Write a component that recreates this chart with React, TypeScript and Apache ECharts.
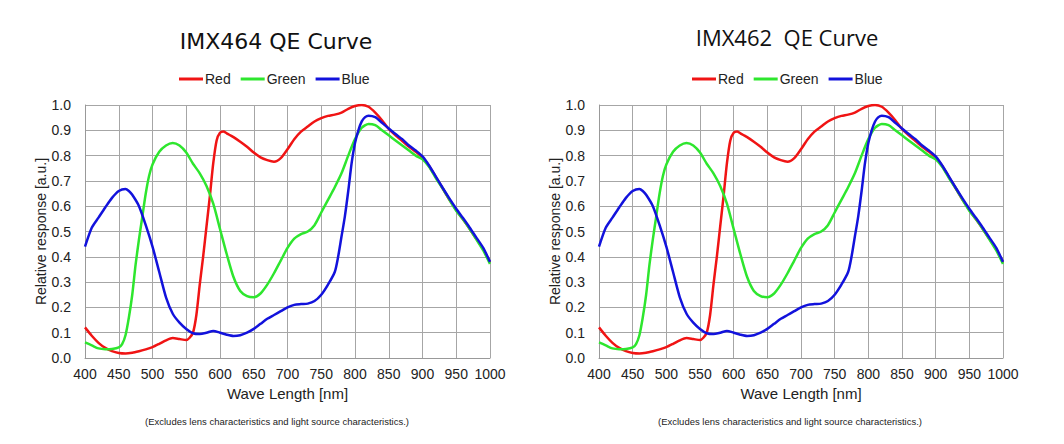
import React, { useEffect, useRef } from 'react'
import * as echarts from 'echarts'

// relative response, [wavelength nm, value]
const redQE = [
  [400, 0.121], [410, 0.088], [420, 0.06], [430, 0.04], [440, 0.027], [450, 0.02],
  [460, 0.018], [470, 0.021], [480, 0.027], [490, 0.034], [500, 0.043], [510, 0.056],
  [520, 0.07], [530, 0.079], [540, 0.075], [550, 0.071], [555, 0.08], [560, 0.1],
  [565, 0.17], [570, 0.29], [575, 0.4], [580, 0.52], [585, 0.64], [590, 0.77],
  [595, 0.86], [600, 0.89], [605, 0.895], [610, 0.888], [620, 0.873], [630, 0.855],
  [640, 0.835], [650, 0.812], [660, 0.793], [670, 0.782], [680, 0.776], [690, 0.79],
  [700, 0.825], [710, 0.865], [720, 0.895], [730, 0.915], [740, 0.935], [750, 0.948],
  [760, 0.957], [770, 0.962], [780, 0.97], [790, 0.985], [800, 0.996], [810, 1.0],
  [820, 0.993], [830, 0.97], [840, 0.94], [850, 0.905], [860, 0.88], [870, 0.858],
  [880, 0.835], [890, 0.815], [900, 0.793], [910, 0.758], [920, 0.714], [930, 0.67],
  [940, 0.625], [950, 0.585], [960, 0.548], [970, 0.51], [980, 0.47], [990, 0.43],
  [1000, 0.377],
]

const greenQE = [
  [400, 0.062], [410, 0.05], [420, 0.038], [430, 0.035], [440, 0.036], [450, 0.042],
  [455, 0.055], [460, 0.09], [465, 0.16], [470, 0.25], [475, 0.37], [480, 0.47],
  [485, 0.56], [490, 0.65], [495, 0.72], [500, 0.765], [510, 0.815], [520, 0.84],
  [530, 0.85], [540, 0.84], [550, 0.812], [560, 0.768], [570, 0.73], [580, 0.68],
  [590, 0.61], [600, 0.51], [610, 0.41], [620, 0.32], [630, 0.265], [640, 0.245],
  [650, 0.24], [660, 0.255], [670, 0.29], [680, 0.335], [690, 0.385], [700, 0.435],
  [710, 0.472], [720, 0.49], [730, 0.5], [740, 0.525], [750, 0.575], [760, 0.625],
  [770, 0.675], [780, 0.73], [790, 0.8], [800, 0.865], [810, 0.91], [820, 0.925],
  [830, 0.92], [840, 0.9], [850, 0.88], [860, 0.86], [870, 0.84], [880, 0.82],
  [890, 0.8], [900, 0.785], [910, 0.755], [920, 0.71], [930, 0.67], [940, 0.625],
  [950, 0.582], [960, 0.548], [970, 0.51], [980, 0.468], [990, 0.425], [1000, 0.372],
]

const blueQE = [
  [400, 0.44], [410, 0.515], [420, 0.555], [430, 0.595], [440, 0.633], [450, 0.66],
  [460, 0.668], [465, 0.66], [470, 0.645], [480, 0.6], [490, 0.525], [500, 0.44],
  [510, 0.34], [520, 0.24], [530, 0.175], [540, 0.14], [550, 0.115], [560, 0.098],
  [570, 0.095], [580, 0.1], [590, 0.107], [600, 0.1], [610, 0.092], [620, 0.087],
  [630, 0.09], [640, 0.1], [650, 0.115], [660, 0.135], [670, 0.155], [680, 0.17],
  [690, 0.185], [700, 0.2], [710, 0.21], [720, 0.213], [730, 0.215], [740, 0.225],
  [750, 0.25], [760, 0.29], [770, 0.34], [775, 0.4], [780, 0.48], [785, 0.56],
  [790, 0.66], [795, 0.77], [800, 0.85], [805, 0.9], [810, 0.935], [815, 0.952],
  [820, 0.958], [830, 0.952], [840, 0.93], [850, 0.907], [860, 0.885], [870, 0.865],
  [880, 0.84], [890, 0.82], [900, 0.797], [910, 0.76], [920, 0.716], [930, 0.672],
  [940, 0.63], [950, 0.59], [960, 0.553], [970, 0.515], [980, 0.475], [990, 0.435],
  [1000, 0.38],
]

const seriesNames = ['Red', 'Green', 'Blue']
const seriesColors = ['#f01414', '#2ee62e', '#1212dc']
const chartTitles = ['IMX464 QE Curve', 'IMX462  QE Curve']
const note = '(Excludes lens characteristics and light source characteristics.)'

const axisFont = 'Liberation Sans, Arial, sans-serif'

function App() {
  const chartRef = useRef(null)

  useEffect(() => {
    const chart = echarts.init(chartRef.current, null, { renderer: 'svg' })
    const seriesData = [redQE, greenQE, blueQE]

    const grids = [
      { left: 85, top: 105, width: 405, height: 253 },
      { left: 599, top: 105, width: 404, height: 253 },
    ]

    const xAxes = grids.map((_, i) => ({
      type: 'value',
      gridIndex: i,
      min: 400,
      max: 1000,
      interval: 50,
      name: 'Wave Length [nm]',
      nameLocation: 'middle',
      nameGap: 28,
      nameTextStyle: { fontFamily: axisFont, fontSize: 15, color: '#222' },
      axisLine: { lineStyle: { color: '#999', width: 1 } },
      axisTick: { show: false },
      axisLabel: {
        fontFamily: axisFont,
        fontSize: 14,
        color: '#222',
        margin: 9,
        formatter: (v: number) => String(v),
      },
      splitLine: { show: true, lineStyle: { color: '#a6a6a6', width: 1 } },
    }))

    const yAxes = grids.map((_, i) => ({
      type: 'value',
      gridIndex: i,
      min: 0,
      max: 1,
      interval: 0.1,
      name: 'Relative response [a.u.]',
      nameLocation: 'middle',
      nameGap: 37,
      nameTextStyle: { fontFamily: axisFont, fontSize: 14, color: '#222' },
      axisLine: { show: true, lineStyle: { color: '#999', width: 1 } },
      axisTick: { show: false },
      axisLabel: {
        fontFamily: axisFont,
        fontSize: 14,
        color: '#222',
        margin: 14,
        formatter: (v: number) => v.toFixed(1),
      },
      splitLine: { show: true, lineStyle: { color: '#a6a6a6', width: 1 } },
    }))

    const series: any[] = []
    grids.forEach((_, g) => {
      seriesNames.forEach((name, k) => {
        series.push({
          name,
          type: 'line',
          xAxisIndex: g,
          yAxisIndex: g,
          data: seriesData[k],
          smooth: 0.25,
          showSymbol: false,
          lineStyle: { color: seriesColors[k], width: 2.5 },
          itemStyle: { color: seriesColors[k] },
        })
      })
    })

    chart.setOption({
      animation: false,
      backgroundColor: '#fff',
      title: [
        {
          text: chartTitles[0],
          left: 271,
          top: 25,
          textAlign: 'center',
          textStyle: { fontFamily: 'DejaVu Sans', fontSize: 22, fontWeight: 'normal', color: '#111' },
        },
        {
          text: chartTitles[1],
          left: 782,
          top: 21,
          textAlign: 'center',
          textStyle: { fontFamily: 'Open Sans', fontSize: 22, fontWeight: 'normal', color: '#111' },
        },
        {
          text: note,
          left: 272,
          top: 411,
          textAlign: 'center',
          textStyle: { fontFamily: axisFont, fontSize: 9.5, fontWeight: 'normal', color: '#222' },
        },
        {
          text: note,
          left: 785,
          top: 411,
          textAlign: 'center',
          textStyle: { fontFamily: axisFont, fontSize: 9.5, fontWeight: 'normal', color: '#222' },
        },
      ],
      legend: [
        { left: 174, top: 67 },
        { left: 687, top: 67 },
      ].map((pos) => ({
        ...pos,
        data: seriesNames,
        icon: 'rect',
        itemWidth: 24,
        itemHeight: 3,
        itemGap: 10,
        selectedMode: false,
        textStyle: { fontFamily: axisFont, fontSize: 14, color: '#222', padding: [0, 0, 0, -3] },
      })),
      grid: grids,
      xAxis: xAxes,
      yAxis: yAxes,
      series,
    })

    return () => {
      chart.dispose()
    }
  }, [])

  return (
    <div
      ref={chartRef}
      style={{ position: 'fixed', left: 0, top: 0, width: '1064px', height: '444px' }}
    ></div>
  )
}

export default App
